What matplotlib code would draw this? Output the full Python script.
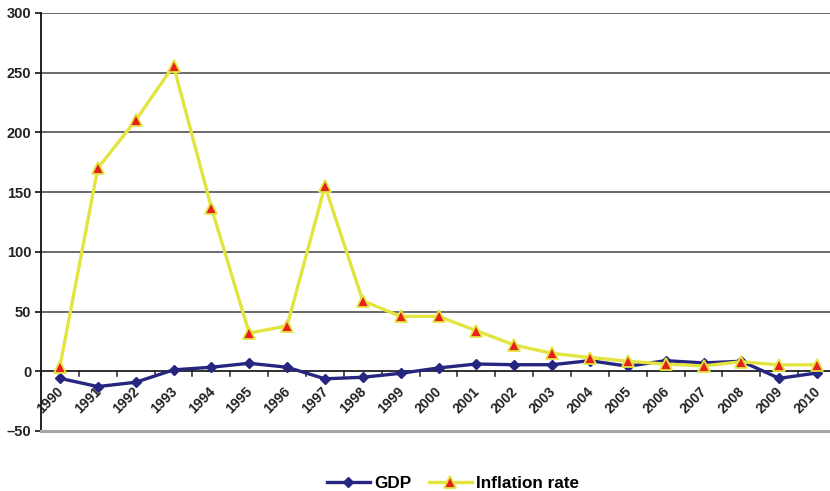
import matplotlib
matplotlib.use("Agg")
import matplotlib.pyplot as plt
from matplotlib.lines import Line2D
from matplotlib.transforms import offset_copy

years = [str(y) for y in range(1990, 2011)]
gdp = [-5.9, -12.8, -9.2, 1.2, 3.4, 6.7, 3.4, -6.3, -5.0, -1.7, 2.8,
       6.1, 5.5, 5.5, 8.9, 4.2, 8.9, 7.0, 8.4, -5.9, -1.4]
inflation = [4, 170, 210, 256, 137, 32, 38, 155, 59, 46, 46,
             34, 22, 15, 11.5, 8.5, 6, 4.5, 8, 5.3, 5.5]
y_ticks = [-50, 0, 50, 100, 150, 200, 250, 300]

plt.rcParams['font.family'] = ['Liberation Sans', 'DejaVu Sans']

fig = plt.figure(figsize=(8.3, 4.91), dpi=100)
ax = fig.add_axes([41 / 830, 1 - 431 / 491, 795 / 830, 418 / 491])

x = list(range(len(years)))
navy = '#262680'
yellow = '#E4E440'
red = '#E8201C'

ax.set_xlim(-0.5, len(years) - 0.5)
ax.set_ylim(-50, 300)

# horizontal gridlines
for v in y_ticks[2:]:
    ax.axhline(v, color='#505050', lw=1.2, zorder=1)
ax.axhline(0, color='#202020', lw=1.3, zorder=1)

ax.plot(x, gdp, color=navy, lw=2.4, marker='D', ms=5.5,
        markerfacecolor=navy, markeredgecolor=navy, zorder=3)
ax.plot(x, inflation, color=yellow, lw=2.4, marker='^', ms=8,
        markerfacecolor=red, markeredgecolor=yellow, markeredgewidth=1.3,
        zorder=4)

# spines
for s in ['top', 'right']:
    ax.spines[s].set_visible(False)
ax.spines['left'].set_color('#101010')
ax.spines['left'].set_linewidth(1.3)
ax.spines['bottom'].set_color('#a8a8a8')
ax.spines['bottom'].set_linewidth(2.2)

ax.set_yticks(y_ticks)
ax.set_yticklabels(['\u201350' if v < 0 else str(v) for v in y_ticks],
                   fontsize=10.5, fontweight='bold', color='#222222')
ax.tick_params(axis='y', length=4, width=1.2, color='#101010', pad=3)
ax.set_xticks([])

# category boundary ticks hanging from the zero line
for b in [i + 0.5 for i in range(-1, len(years))]:
    ax.plot([b, b], [0, -4], color='#202020', lw=1.1, zorder=2,
            clip_on=False)

# rotated year labels under the zero line
for i, yr in enumerate(years):
    tr = offset_copy(ax.transData, fig=fig, x=-2.5, y=-9.5, units='points')
    ax.text(i, 0, yr, transform=tr, rotation=45, ha='right', va='top',
            rotation_mode='anchor', fontsize=10, fontweight='bold',
            color='#222222')

handles = [
    Line2D([], [], color=navy, lw=2.4, marker='D', ms=5.5,
           markerfacecolor=navy, markeredgecolor=navy),
    Line2D([], [], color=yellow, lw=2.4, marker='^', ms=8,
           markerfacecolor=red, markeredgecolor=yellow, markeredgewidth=1.3),
]
fig.legend(handles, ['GDP', 'Inflation rate'], loc='center',
           bbox_to_anchor=(453 / 830, 0.016), ncol=2, frameon=False,
           prop={'weight': 'bold', 'size': 12.3}, handlelength=2.5,
           columnspacing=1.05, handletextpad=0.25, borderpad=0)

fig.savefig('out.png', dpi=100)
